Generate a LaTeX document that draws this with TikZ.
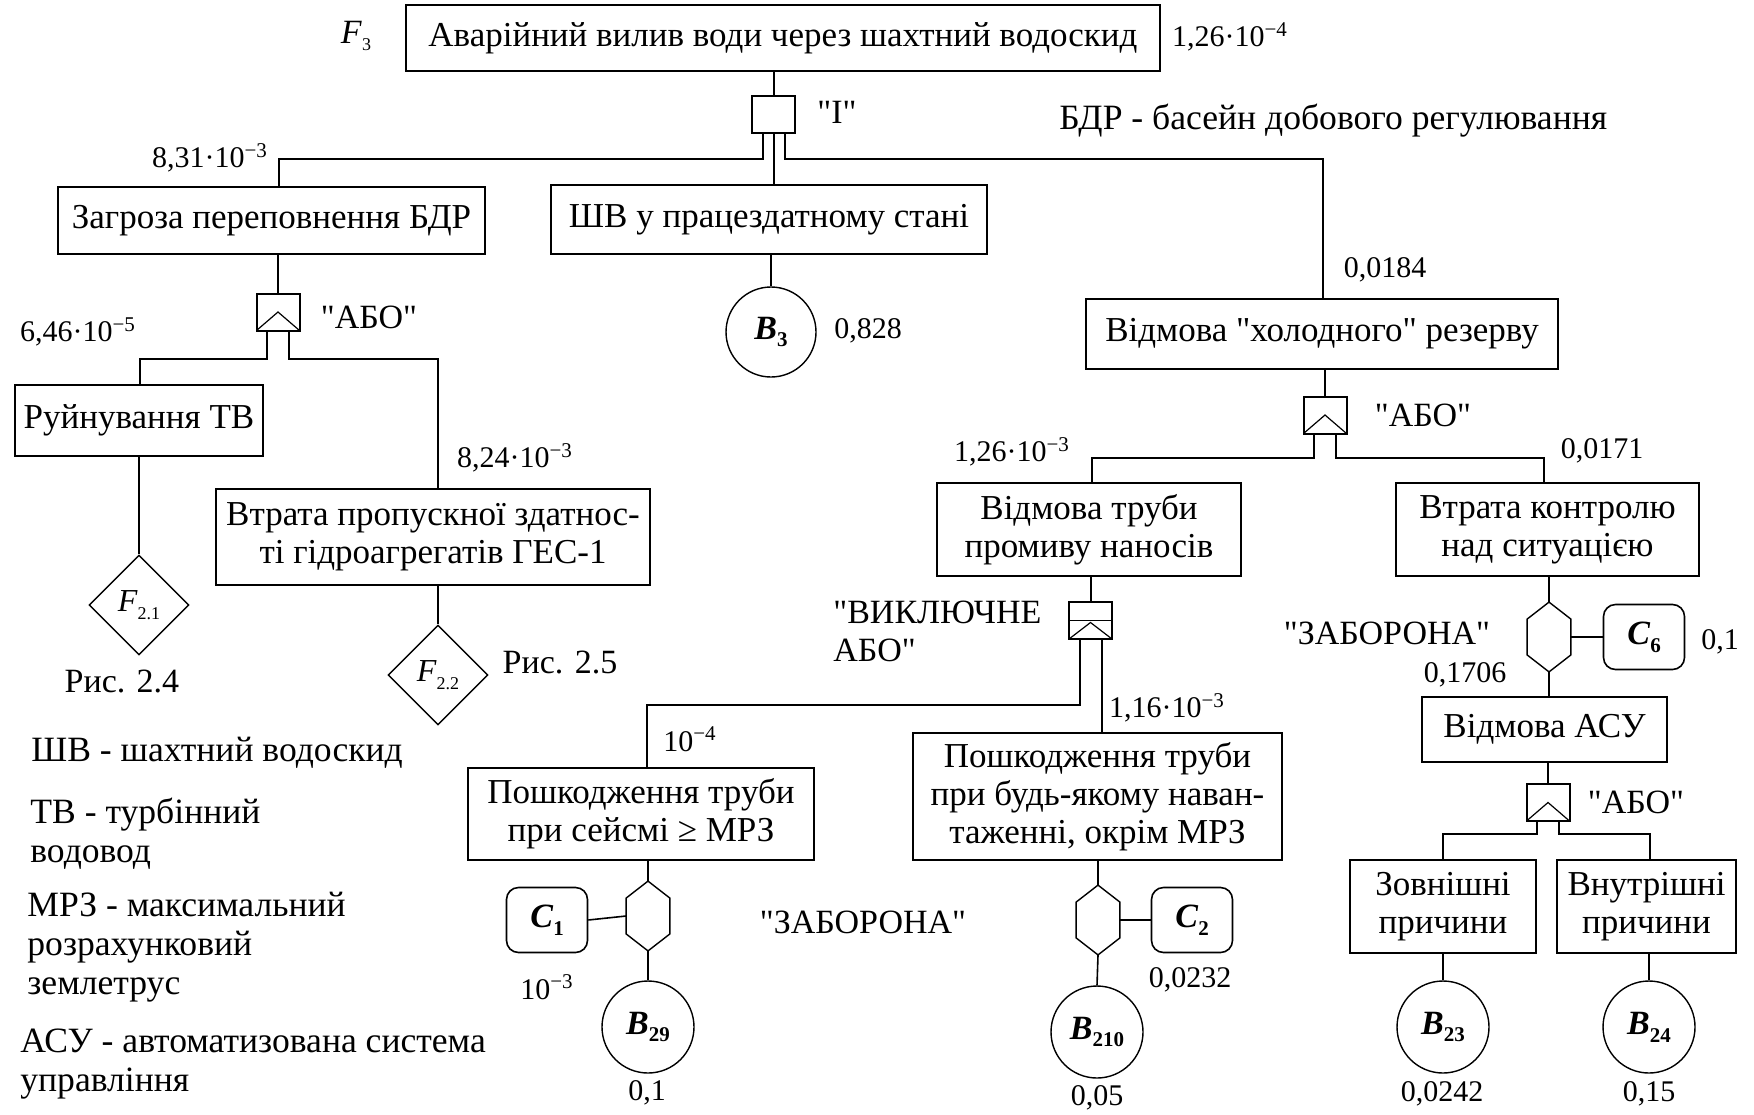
\documentclass[tikz,border=0pt]{standalone}
\usepackage{fontspec}
\setmainfont{Liberation Serif}[Ligatures=TeXOff]
\usetikzlibrary{shapes.geometric,calc}
\newcommand{\pw}[1]{\textsuperscript{#1}}
\newcommand{\bsub}[2]{\textbf{\textit{#1}}\raisebox{-0.5ex}{\fontsize{10.5}{10.5}\selectfont\textbf{#2}}}
\newcommand{\fsub}[2]{\textit{#1}\raisebox{-0.5ex}{\fontsize{9}{9}\selectfont #2}}
\newcommand{\hexdraw}[1]{\draw[line width=0.7pt] (#1.north) -- ([yshift=-8.5pt]#1.north east) -- ([yshift=8.5pt]#1.south east) -- (#1.south) -- ([yshift=8.5pt]#1.south west) -- ([yshift=-8.5pt]#1.north west) -- cycle;}
\begin{document}
\begin{tikzpicture}[x=0.5pt,y=-0.5pt,
  box/.style={draw, line width=1pt, rectangle, inner sep=1pt, align=center, font=\fontsize{17.5}{19}\selectfont},
  gate/.style={draw, line width=1pt, rectangle, minimum width=21.5pt, minimum height=18.5pt, inner sep=0pt},
  orgate/.style={gate, path picture={\draw[line width=0.6pt] (path picture bounding box.south west) -- (path picture bounding box.center) -- (path picture bounding box.south east);}},
  xorgate/.style={gate, path picture={\draw[line width=0.8pt] (path picture bounding box.west) -- (path picture bounding box.east);
     \draw[line width=0.6pt] (path picture bounding box.south west) -- ([yshift=-1pt]path picture bounding box.center) -- (path picture bounding box.south east);}},
  circ/.style={draw, circle, line width=0.7pt, minimum size=46pt, inner sep=0pt, font=\fontsize{17}{17}\selectfont},
  cond/.style={draw, rounded corners=6pt, line width=0.8pt, minimum width=40.5pt, minimum height=32.5pt, inner sep=0pt, font=\fontsize{17}{17}\selectfont},
  dia/.style={draw, diamond, aspect=1, minimum size=50pt, inner sep=0pt, line width=0.7pt, font=\fontsize{16}{16}\selectfont},
  hexa/.style={minimum width=21.5pt, minimum height=34.5pt, inner sep=0pt},
  num/.style={font=\fontsize{15}{17}\selectfont, inner sep=0pt},
  lbl/.style={font=\fontsize{17}{19.3}\selectfont, inner sep=0pt, align=left},
  legend/.style={font=\fontsize{17.8}{19.5}\selectfont, inner sep=0pt, align=left, anchor=west},
  conn/.style={line width=1pt},
  thinconn/.style={line width=0.8pt}]
\useasboundingbox (0,0) rectangle (1754,1114);

% boxes
\node[box, minimum width=377pt, minimum height=33pt] (top) at (783,38) {Аварійний вилив води через шахтний водоскид};
\node[box, minimum width=213.5pt, minimum height=33.5pt] (b1) at (271.5,220.5) {Загроза переповнення БДР};
\node[box, minimum width=218pt, minimum height=34.5pt] (b2) at (769,219.5) {ШВ у працездатному стані};
\node[box, minimum width=236pt, minimum height=35pt] (b3) at (1322,334) {Відмова "холодного" резерву};
\node[box, minimum width=124pt, minimum height=35.5pt] (b4) at (139,420.5) {Руйнування ТВ};
\node[box, minimum width=217pt, minimum height=48pt] (b5) at (433,537) {Втрата пропускної здатнос-\\ті гідроагрегатів ГЕС-1};
\node[box, minimum width=152pt, minimum height=46.5pt] (b6) at (1089,529.5) {Відмова труби\\промиву наносів};
\node[box, minimum width=151.5pt, minimum height=46.5pt] (b7) at (1547.5,529.5) {Втрата контролю\\над ситуацією};
\node[box, minimum width=173pt, minimum height=46pt] (b8) at (641,814) {Пошкодження труби\\при сейсмі ≥ МРЗ};
\node[box, minimum width=184.5pt, minimum height=63.5pt] (b9) at (1097.5,796.5) {Пошкодження труби\\при будь-якому наван-\\таженні, окрім МРЗ};
\node[box, minimum width=122.5pt, minimum height=32.5pt] (b10) at (1544.5,729.5) {Відмова АСУ};
\node[box, minimum width=93pt, minimum height=46.5pt] (b11) at (1443,906.5) {Зовнішні\\причини};
\node[box, minimum width=89.5pt, minimum height=46.5pt] (b12) at (1646.5,906.5) {Внутрішні\\причини};

% gates
\node[gate] (g0) at (773.5,114.5) {};
\node[orgate] (g1) at (278,312) {};
\node[orgate] (g2) at (1325,415) {};
\node[xorgate] (g3) at (1090.5,620.5) {};
\node[orgate] (g4) at (1548,802.5) {};

% inhibit gates
\node[hexa] (h1) at (648,916) {};
\node[hexa] (h2) at (1098,920) {};
\node[hexa] (h3) at (1549,637) {};
\hexdraw{h1}
\hexdraw{h2}
\hexdraw{h3}

% conditions
\node[cond] (c1) at (547,920) {\bsub{C}{1}};
\node[cond] (c2) at (1192,920) {\bsub{C}{2}};
\node[cond] (c6) at (1644,637) {\bsub{C}{6}};

% basic events
\node[circ, minimum size=45pt] (B3) at (771,332) {\bsub{B}{3}};
\node[circ] (B29) at (648,1027) {\bsub{B}{29}};
\node[circ] (B210) at (1097,1032) {\bsub{B}{210}};
\node[circ] (B23) at (1443,1027) {\bsub{B}{23}};
\node[circ] (B24) at (1649,1027) {\bsub{B}{24}};

% transfers
\node[dia] (F21) at (139,605) {\fsub{F}{2.1}};
\node[dia] (F22) at (438,675) {\fsub{F}{2.2}};

% junctions
\coordinate (j1) at (279,159);
\coordinate (j2) at (1323,159);
\coordinate (j3) at (140,359);
\coordinate (j4) at (438,359);
\coordinate (j5) at (1092,458);
\coordinate (j6) at (1544,458);
\coordinate (j7) at (647,705);
\coordinate (j8) at (1443,834);
\coordinate (j9) at (1650,834);

% connectors
\draw[conn] (g0.north |- top.south) -- (g0.north);
\draw[conn] ([xshift=-5.5pt]g0.south) |- (j1) -- (j1 |- b1.north);
\draw[conn] (g0.south) -- (g0.south |- b2.north);
\draw[conn] ([xshift=5.5pt]g0.south) |- (j2) -- (j2 |- b3.north);
\draw[conn] (B3.north |- b2.south) -- (B3.north);
\draw[conn] (g1.north |- b1.south) -- (g1.north);
\draw[conn] ([xshift=-5.5pt]g1.south) |- (j3) -- (j3 |- b4.north);
\draw[conn] ([xshift=5.5pt]g1.south) |- (j4) -- (j4 |- b5.north);
\draw[conn] (F21.north |- b4.south) -- (F21.north);
\draw[conn] (F22.north |- b5.south) -- (F22.north);
\draw[conn] (g2.north |- b3.south) -- (g2.north);
\draw[conn] ([xshift=-5.5pt]g2.south) |- (j5) -- (j5 |- b6.north);
\draw[conn] ([xshift=5.5pt]g2.south) |- (j6) -- (j6 |- b7.north);
\draw[conn] (g3.north |- b6.south) -- (g3.north);
\draw[conn] ([xshift=-5.5pt]g3.south) |- (j7) -- (j7 |- b8.north);
\draw[conn] ([xshift=5.5pt]g3.south) -- ([xshift=5.5pt]g3.south |- b9.north);
\draw[thinconn] (h1.north |- b8.south) -- (h1.north);
\draw[thinconn] (h1.south) -- (B29.north);
\draw[thinconn] (c1.east) -- (h1.west);
\draw[thinconn] (h2.north |- b9.south) -- (h2.north);
\draw[thinconn] (h2.south) -- (B210.north);
\draw[thinconn] (h2.east) -- (c2.west);
\draw[thinconn] (h3.north |- b7.south) -- (h3.north);
\draw[thinconn] (h3.east) -- (c6.west);
\draw[thinconn] (h3.south) -- (h3.south |- b10.north);
\draw[conn] (g4.north |- b10.south) -- (g4.north);
\draw[conn] ([xshift=-5.5pt]g4.south) |- (j8) -- (j8 |- b11.north);
\draw[conn] ([xshift=5.5pt]g4.south) |- (j9) -- (j9 |- b12.north);
\draw[thinconn] (B23.north |- b11.south) -- (B23.north);
\draw[thinconn] (B24.north |- b12.south) -- (B24.north);

% labels
\node[lbl] (lF3) at (356,36) {\fsub{F}{3}};
\node[num] (n1) at (1230,37) {1,26·10\pw{−4}};
\node[lbl] (lI) at (837,112) {"I"};
\node[legend] (lbdr) at (1059,121) {БДР - басейн добового регулювання};
\node[num] (n2) at (210,158) {8,31·10\pw{−3}};
\node[num] (n3) at (78,332) {6,46·10\pw{−5}};
\node[lbl] (lor1) at (369,317) {"АБО"};
\node[num] (n4) at (868,331) {0,828};
\node[num] (n5) at (1385,270) {0,0184};
\node[lbl] (lor2) at (1423,415) {"АБО"};
\node[num] (n6) at (1012,452) {1,26·10\pw{−3}};
\node[num] (n7) at (1602,451) {0,0171};
\node[num] (n8) at (515,458) {8,24·10\pw{−3}};
\node[lbl] (r24) at (122,681) {Рис. 2.4};
\node[lbl] (r25) at (560,662) {Рис. 2.5};
\node[lbl, anchor=west] (lxor) at (833,631.5) {"ВИКЛЮЧНЕ\\АБО"};
\node[num] (n9) at (1167,708) {1,16·10\pw{−3}};
\node[num] (n10) at (690,739) {10\pw{−4}};
\node[lbl] (linh1) at (863,922) {"ЗАБОРОНА"};
\node[lbl] (linh2) at (1387,633) {"ЗАБОРОНА"};
\node[num] (n11) at (1720,642) {0,1};
\node[num] (n12) at (1465,675) {0,1706};
\node[lbl] (lor4) at (1636,802) {"АБО"};
\node[num] (n13) at (547,987) {10\pw{−3}};
\node[num] (n14) at (1190,980) {0,0232};
\node[num] (n15) at (647,1093) {0,1};
\node[num] (n16) at (1097,1098) {0,05};
\node[num] (n17) at (1442,1094) {0,0242};
\node[num] (n18) at (1649,1094) {0,15};

% legend
\node[legend] (lg1) at (31,753) {ШВ - шахтний водоскид};
\node[legend] (lg2) at (30,834) {ТВ - турбінний\\водовод};
\node[legend] (lg3) at (27,947) {МРЗ - максимальний\\розрахунковий\\землетрус};
\node[legend] (lg4) at (20,1064) {АСУ - автоматизована система\\управління};
\end{tikzpicture}
\end{document}
